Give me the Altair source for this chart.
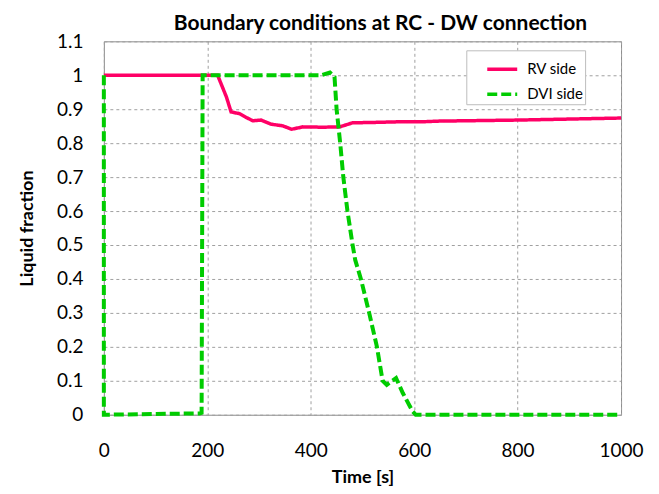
import altair as alt
import pandas as pd

# ---- data ----
series_names = ["RV side", "DVI side"]
series_colors = ["#FF0066", "#00CC00"]

rv_time = [0, 220, 237, 246, 262, 275, 288, 304, 323, 346, 363, 385, 423, 456, 481,
           520, 571, 616, 648, 700, 800, 900, 1000]
rv_frac = [1.0, 1.0, 0.936, 0.892, 0.887, 0.876, 0.866, 0.868, 0.856, 0.851, 0.841,
           0.848, 0.847, 0.848, 0.860, 0.861, 0.863, 0.863, 0.865, 0.866, 0.868, 0.871, 0.874]

dvi_time = [0, 0, 185, 189, 191, 420, 437, 446, 450, 457, 463, 471, 481, 486, 497,
            513, 528, 539, 547, 555, 565, 578, 597, 603, 1000]
dvi_frac = [1.0, 0.0, 0.004, 0.006, 1.0, 1.0, 1.008, 0.995, 0.9, 0.8, 0.7, 0.6, 0.5,
            0.456, 0.4, 0.3, 0.2, 0.1, 0.088, 0.097, 0.108, 0.064, 0.01, 0.0, 0.0]

x_ticks = [0, 200, 400, 600, 800, 1000]
y_ticks = [0, 0.1, 0.2, 0.3, 0.4, 0.5, 0.6, 0.7, 0.8, 0.9, 1.0, 1.1]

rv_df = pd.DataFrame({"time": rv_time, "frac": rv_frac, "series": series_names[0],
                      "idx": list(range(len(rv_time)))})
dvi_df = pd.DataFrame({"time": dvi_time, "frac": dvi_frac, "series": series_names[1],
                       "idx": list(range(len(dvi_time)))})

FONT = "Lato"

x_enc = alt.X("time:Q", scale=alt.Scale(domain=[0, 1000], nice=False),
              axis=alt.Axis(title="Time [s]", values=x_ticks, format="d",
                            labelFlush=False, labelPadding=27, titlePadding=8))
y_enc = alt.Y("frac:Q", scale=alt.Scale(domain=[0, 1.1], nice=False),
              axis=alt.Axis(title="Liquid fraction", values=y_ticks, format=".1~f",
                            labelFlush=False, labelPadding=21, titlePadding=20))
color_enc = alt.Color("series:N",
                      scale=alt.Scale(domain=series_names, range=series_colors),
                      legend=alt.Legend(title=None, orient="none", legendX=363, legendY=9,
                                        fillColor="white", strokeColor="#bdbdbd",
                                        padding=2, symbolOffset=17, symbolType="stroke",
                                        symbolSize=900, symbolStrokeWidth=3.5,
                                        labelFont=FONT, labelFontSize=15,
                                        labelColor="black", rowPadding=-5, labelOffset=8))
dash_enc = alt.StrokeDash("series:N",
                          scale=alt.Scale(domain=series_names, range=[[1, 0], [10, 4]]),
                          legend=alt.Legend(title=None))

rv_line = alt.Chart(rv_df).mark_line(strokeWidth=3.5).encode(
    x=x_enc, y=y_enc, color=color_enc, strokeDash=dash_enc, order="idx:Q")
dvi_line = alt.Chart(dvi_df).mark_line(strokeWidth=4).encode(
    x=x_enc, y=y_enc, color=color_enc, strokeDash=dash_enc, order="idx:Q")

chart = alt.layer(rv_line, dvi_line).properties(
    width=518, height=374,
    title=alt.TitleParams("Boundary conditions at RC - DW connection", font=FONT,
                          fontSize=21, fontWeight="bold", color="black",
                          anchor="middle", dx=18, offset=-2),
    autosize=alt.AutoSizeParams(type="none"),
    padding={"left": 96, "top": 33, "right": 30, "bottom": 76},
).configure_view(
    stroke="#8c8c8c", strokeWidth=1
).configure_axis(
    domain=False, ticks=False, grid=True, gridColor="#a0a0a0", gridDash=[3, 3],
    gridWidth=1, labelFont=FONT, labelFontSize=19, labelColor="black",
    titleFont=FONT, titleFontSize=18, titleFontWeight="bold", titleColor="black"
)

chart.save("out.html", embed_options={"renderer": "svg", "actions": False})
